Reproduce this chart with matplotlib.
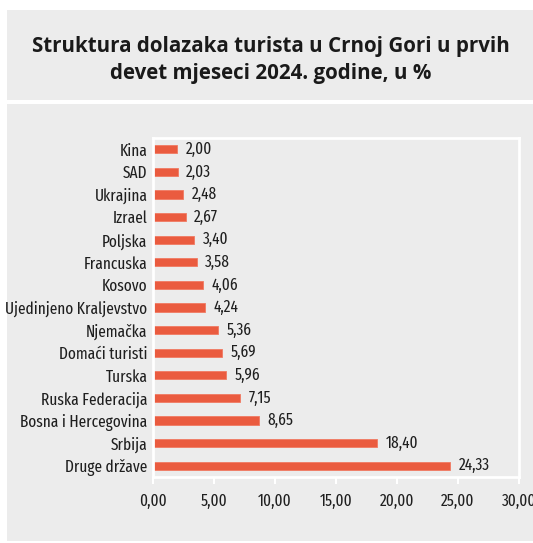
import matplotlib.pyplot as plt
from matplotlib.patches import Rectangle

# data (bottom to top as drawn)
countries = ['Druge države', 'Srbija', 'Bosna i Hercegovina', 'Ruska Federacija',
             'Turska', 'Domaći turisti', 'Njemačka', 'Ujedinjeno Kraljevstvo',
             'Kosovo', 'Francuska', 'Poljska', 'Izrael', 'Ukrajina', 'SAD', 'Kina']
shares = [24.33, 18.40, 8.65, 7.15, 5.96, 5.69, 5.36, 4.24,
          4.06, 3.58, 3.40, 2.67, 2.48, 2.03, 2.00]
xticks = [0, 5, 10, 15, 20, 25, 30]

W, H = 533, 543
grey = '#ececec'
bar_col = '#ea5b3f'
narrow = ['Fira Sans Extra Condensed', 'DejaVu Sans']
fs = 12
wt = 'normal'
txt = '#1f1f1f'

fig = plt.figure(figsize=(W / 100, H / 100), dpi=100)
fig.patch.set_facecolor('white')

# grey panels behind title and chart
fig.patches.append(Rectangle((7 / W, 1 - 100 / H), 1, 90 / H, transform=fig.transFigure,
                             facecolor=grey, edgecolor='none', zorder=-5))
fig.patches.append(Rectangle((7 / W, 1 - 541 / H), 1, 437 / H, transform=fig.transFigure,
                             facecolor=grey, edgecolor='none', zorder=-5))

fig.text(0.508, 1 - 60 / H, 'Struktura dolazaka turista u Crnoj Gori u prvih\ndevet mjeseci 2024. godine, u %',
         ha='center', va='center', fontsize=14.8, fontweight='bold', family='Open Sans',
         color='#1a1a1a', linespacing=1.4)

ax = fig.add_axes([153 / W, 1 - 477 / H, (519 - 153) / W, (477 - 138) / H])
ax.set_facecolor(grey)
y = range(len(countries))
ax.barh(y, shares, height=0.36, color=bar_col, edgecolor='#f07a62', linewidth=0.6)
for yi, v in zip(y, shares):
    ax.text(v + 0.7, yi, f'{v:.2f}'.replace('.', ','), va='center', ha='left',
            fontsize=fs, fontweight=wt, family=narrow, color=txt)

ax.set_xlim(0, 30)
ax.set_ylim(-0.5, len(countries) - 0.5)
ax.set_xticks(xticks)
ax.set_xticklabels([f'{t:.2f}'.replace('.', ',') for t in xticks], family=narrow,
                   fontsize=fs, fontweight=wt, color=txt)
ax.set_yticks(list(y))
ax.set_yticklabels(countries, family=narrow, fontsize=fs, fontweight=wt, color=txt)
ax.tick_params(axis='y', length=0, pad=4)
ax.tick_params(axis='x', length=5, width=1.5, color='white', pad=7)
for s in ax.spines.values():
    s.set_color('white')
    s.set_linewidth(2)

fig.savefig('out.png', dpi=100)
